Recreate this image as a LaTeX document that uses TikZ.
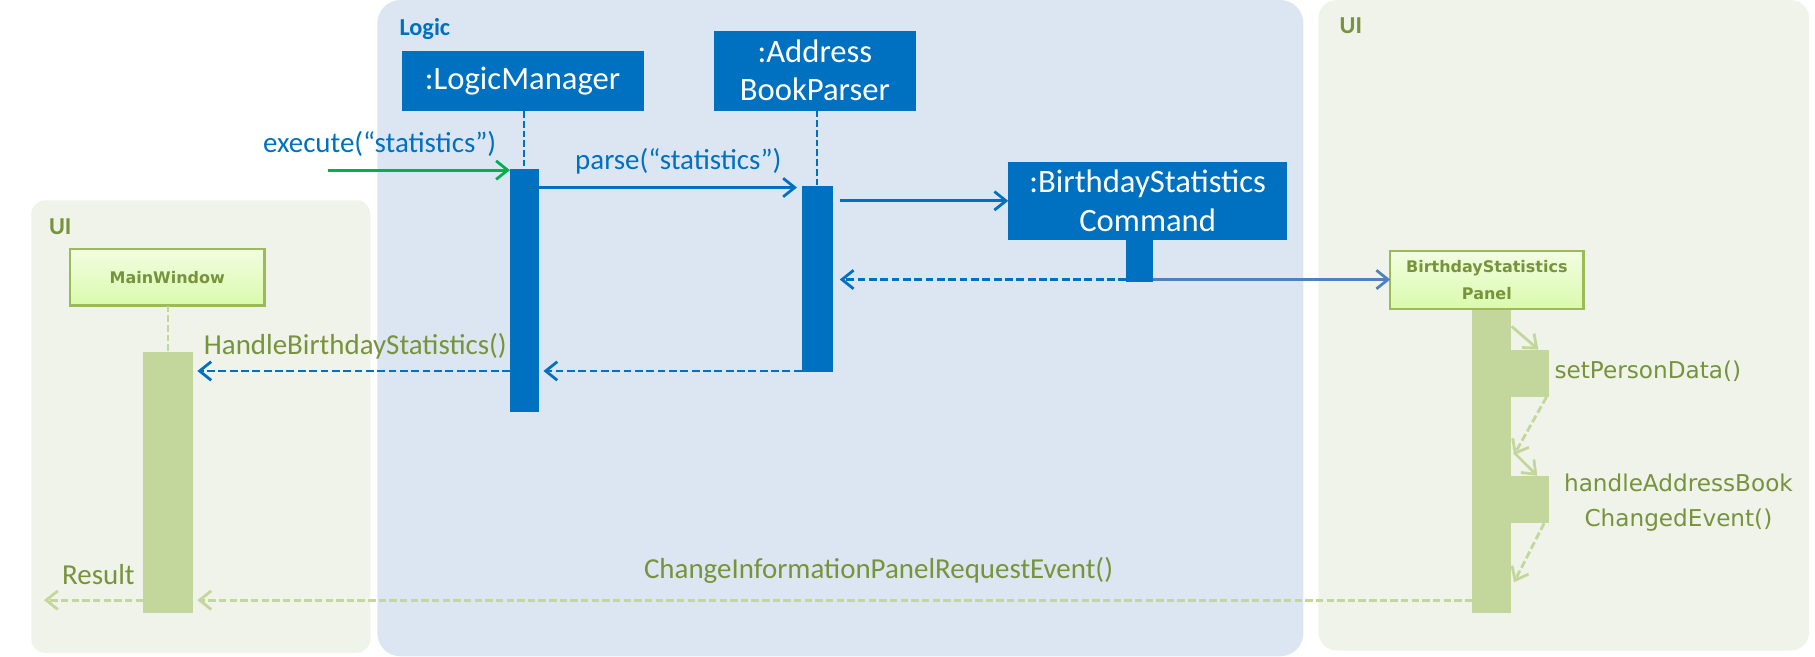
\documentclass[tikz,border=0pt]{standalone}
\usepackage{fontspec}
\setmainfont{Carlito}
\newfontfamily\vfont{DejaVu Sans}
\usetikzlibrary{arrows.meta,calc}
\definecolor{mblue}{HTML}{0070C0}
\definecolor{mgreen}{HTML}{00B050}
\definecolor{sblue}{HTML}{4F81BD}
\definecolor{dgreen}{HTML}{77933C}
\definecolor{lgreen}{HTML}{C3D69B}
\definecolor{bgreen}{HTML}{9BBB59}
\definecolor{logicfill}{RGB}{220,230,242}
\definecolor{uifill}{RGB}{239,243,233}
\definecolor{gtop}{RGB}{242,253,226}
\definecolor{gbot}{RGB}{218,250,172}
\begin{document}
\begin{tikzpicture}[x=0.5pt,y=-0.5pt,
  every node/.style={inner sep=0pt,outer sep=0pt},
  objbox/.style={fill=mblue,text=white,font=\fontsize{14.1}{16.5}\selectfont,align=center},
  uibox/.style={draw=bgreen,line width=1pt,top color=gtop,bottom color=gbot,text=dgreen,
    font=\vfont\bfseries\fontsize{6.9}{11.5}\selectfont,align=center},
  bact/.style={fill=mblue,anchor=north},
  gact/.style={fill=lgreen,anchor=north},
  lifeb/.style={draw=mblue,line width=0.8pt,dash pattern=on 2.9pt off 1.3pt},
  lifeg/.style={draw=lgreen,line width=0.8pt,dash pattern=on 2.9pt off 1.3pt},
  tip/.style={-{Straight Barb[length=5pt,width=8pt]}},
  barr/.style={tip,draw=mblue,line width=1.2pt},
  garr/.style={tip,draw=mgreen,line width=1.2pt},
  sarr/.style={tip,draw=sblue,line width=1.2pt},
  bdash/.style={tip,draw=mblue,line width=1.2pt,dash pattern=on 3.4pt off 1.5pt},
  gdash/.style={tip,draw=lgreen,line width=1.2pt,dash pattern=on 3.2pt off 1.4pt},
  larr/.style={tip,draw=lgreen,line width=1.2pt},
  lbl/.style={font=\fontsize{12.5}{15}\selectfont},
  vlbl/.style={font=\vfont\fontsize{10}{15.2}\selectfont,text=dgreen,align=center},
  plbl/.style={font=\bfseries\fontsize{10.5}{12}\selectfont}
]
\useasboundingbox (0,0) rectangle (1568,567);
% panels
\fill[uifill,rounded corners=6pt] (27,173) rectangle (320,564);
\fill[logicfill,rounded corners=10pt] (326,0) rectangle (1126,567);
\fill[uifill,rounded corners=8pt] (1139,0) rectangle (1563,562);
\node[plbl,text=dgreen] (uil) at (52,196) {UI};
\node[plbl,text=mblue] (logl) at (367,25) {Logic};
\node[plbl,text=dgreen] (uir) at (1167,22) {UI};
% objects
\node[objbox,minimum width=104.5pt,minimum height=26pt] (lm) at (451.5,70) {:LogicManager};
\node[objbox,minimum width=87pt,minimum height=34.5pt] (abp) at (704,61) {:Address\\BookParser};
\node[objbox,minimum width=120.5pt,minimum height=33.5pt] (bsc) at (991.5,173.5) {:BirthdayStatistics\\Command};
\node[uibox,minimum width=84pt,minimum height=24.5pt] (mw) at (144.5,239.5) {MainWindow};
\node[uibox,minimum width=83.5pt,minimum height=25pt] (bsp) at (1284.5,242) {BirthdayStatistics\\Panel};
% activation bars
\node[bact,minimum width=12.5pt,minimum height=105pt] (lmact) at (453,146) {};
\node[bact,minimum width=13.5pt,minimum height=80pt] (abpact) at (706,161) {};
\node[bact,minimum width=11.5pt,minimum height=18.5pt] (bscact) at (984.5,207) {};
\node[gact,minimum width=21.5pt,minimum height=113pt] (mwact) at (145,304) {};
\node[gact,minimum width=16.5pt,minimum height=131pt] (bspact) at (1288.5,268) {};
\node[gact,anchor=north west,minimum width=16.5pt,minimum height=20.5pt] (sp1) at (bspact.east |- 0,302) {};
\node[gact,anchor=north west,minimum width=16.5pt,minimum height=20.5pt] (sp2) at (bspact.east |- 0,411) {};
% lifelines
\draw[lifeb] (lmact.north |- lm.south) -- (lmact.north);
\draw[lifeb] (abpact.north |- abp.south) -- (abpact.north);
\draw[lifeg] (mwact.north |- mw.south) -- (mwact.north);
% y levels
\coordinate (yex) at (0,147);
\coordinate (ypa) at (0,162);
\coordinate (yret) at (0,241.5);
\coordinate (yr2) at (0,320.5);
\coordinate (ych) at (0,518.5);
\coordinate (exstart) at (283,147);
\coordinate (resend) at (38,518.5);
% messages
\draw[garr] (exstart) -- (lmact.west |- yex);
\node[lbl,text=mblue] (exl) at (328,124) {execute(“statistics”)};
\draw[barr,shorten >=2pt] (lmact.east |- ypa) -- (abpact.west |- ypa);
\node[lbl,text=mblue] (pal) at (586,139) {parse(“statistics”)};
\draw[barr,shorten <=3pt] (abpact.east |- bsc.west) -- (bsc.west);
\draw[bdash,shorten >=3pt] (bscact.west |- yret) -- (abpact.east |- yret);
\draw[sarr] (bscact.east |- yret) -- (bsp.west |- yret);
\draw[bdash,shorten >=2pt] (abpact.west |- yr2) -- (lmact.east |- yr2);
\draw[bdash,shorten >=2pt] (lmact.west |- yr2) -- (mwact.east |- yr2);
\node[lbl,text=dgreen] (hbl) at (307,299.5) {HandleBirthdayStatistics()};
\draw[gdash,shorten >=2pt] (bspact.west |- ych) -- (mwact.east |- ych);
\node[lbl,text=dgreen] (cil) at (759,493) {ChangeInformationPanelRequestEvent()};
\draw[gdash] (mwact.west |- ych) -- (resend);
\node[lbl,text=dgreen] (rsl) at (85,496) {Result};
% self calls
\draw[larr] ([xshift=0.5pt]bspact.east |- 0,282) -- ([xshift=12pt]sp1.north west);
\draw[gdash] ([xshift=-1pt]sp1.south east) -- ([xshift=1.5pt]bspact.east |- 0,393);
\draw[larr] ([xshift=1.5pt]bspact.east |- 0,391) -- ([xshift=11.5pt]sp2.north west);
\draw[gdash] ([xshift=-2pt]sp2.south east) -- ([xshift=1.5pt]bspact.east |- 0,503);
\node[vlbl,anchor=west] (spl) at (1343,321) {setPersonData()};
\node[vlbl] (hal) at (1450,434) {handleAddressBook\\ChangedEvent()};
\end{tikzpicture}
\end{document}
